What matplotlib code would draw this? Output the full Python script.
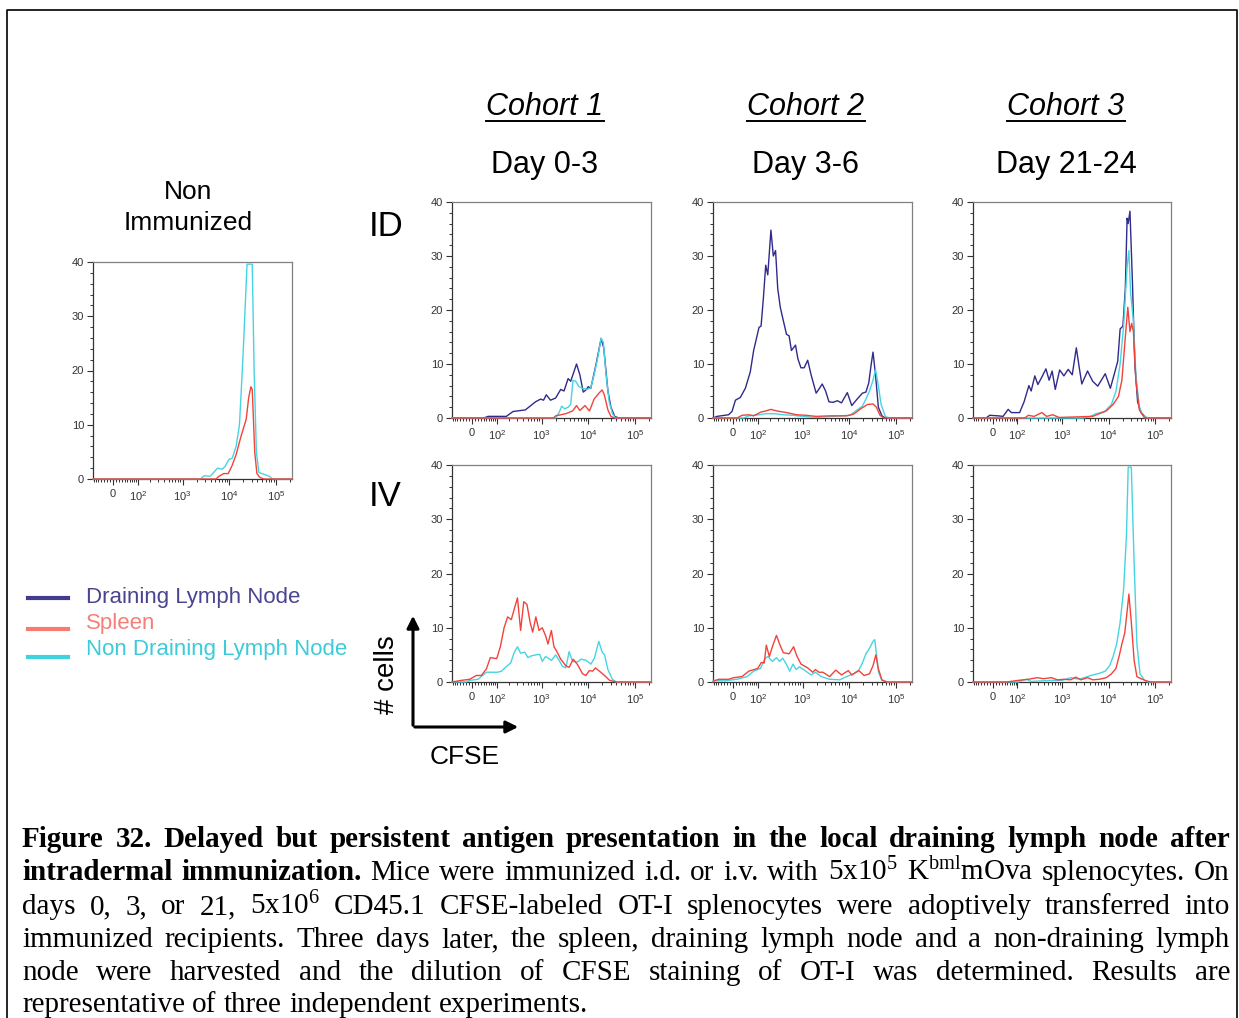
import numpy as np
import matplotlib.pyplot as plt
from matplotlib.lines import Line2D
from matplotlib.patches import FancyArrowPatch
from matplotlib.ticker import FixedLocator, MultipleLocator

plt.rcParams['font.family'] = ['Liberation Sans', 'DejaVu Sans']
plt.rcParams['mathtext.default'] = 'regular'

W, H = 1239, 1018
fig = plt.figure(figsize=(W / 100, H / 100), dpi=100)


def fx(px):
    return px / W


def fy(py):
    return 1 - py / H


dln_color = '#302b8a'
spl_color = '#f2433a'
ndln_color = '#47d4e2'

# ---- data: CFSE intensity vs # cells ----
# Non immunized
ni_ndln_x = [-74, 2400, 2900, 3900, 5600, 7000, 8100, 9800, 11500, 14000, 16500, 19500, 24000, 31000,
             34000, 38000, 43000, 54000, 72000, 85000, 220000]
ni_ndln_y = [0, 0, 0.6, 0.5, 2.0, 1.8, 2.3, 3.6, 3.8, 6, 10, 22, 39.6, 39.6, 20, 5, 1.2, 0.9, 0.5, 0, 0]
ni_spl_x = [-74, 5200, 6000, 7600, 9500, 11500, 14000, 18000, 23000, 26000, 29000, 31000, 35000, 39000,
            45000, 55000, 220000]
ni_spl_y = [0, 0, 0.5, 1.0, 1.0, 2.5, 4.5, 8, 11, 15, 17, 16.5, 5, 1, 0.3, 0, 0]

# ID, cohort 1 (day 0-3)
id1_dln_x = [-74, 40, 57, 170, 240, 447, 740, 950, 1100, 1260, 1550, 2000, 2570, 3020, 3700, 4200, 5600,
             6600, 7800, 8900, 10000, 11300, 14700, 18800, 21400, 26300, 30500, 36700, 45000, 220000]
id1_dln_y = [0, 0, 0.3, 0.3, 1.2, 1.5, 3.0, 3.5, 3.3, 4.3, 3.3, 3.7, 5.3, 5.0, 7.3, 6.8, 10, 8, 4.8, 5.2,
             5.8, 5.5, 10, 14.7, 13, 5, 2, 0.3, 0, 0]
id1_ndln_x = [-74, 2000, 2360, 2700, 3100, 3700, 4200, 4700, 5400, 6300, 7500, 9600, 11300, 13300, 15800,
              18800, 21000, 24000, 28000, 33000, 38000, 220000]
id1_ndln_y = [0, 0, 1, 2.2, 1.7, 2.0, 2.5, 7, 6.8, 5.8, 5.5, 5.3, 5.6, 8, 11, 14.8, 14, 8, 3, 0.8, 0, 0]
id1_spl_x = [-74, 1800, 2000, 3300, 4600, 5600, 6600, 8500, 10600, 13300, 17300, 19800, 22000, 26300,
             30500, 36000, 220000]
id1_spl_y = [0, 0, 0.4, 0.8, 1.3, 2.3, 1.4, 2.3, 1.3, 3.5, 4.7, 5.2, 4.3, 1.5, 0.3, 0, 0]

# ID, cohort 2 (day 3-6)
id2_dln_x = [-74, -56, -14, -3, 8, 24, 42, 62, 78, 108, 121, 137, 156, 174, 205, 232, 260, 290, 330, 385,
             450, 513, 575, 705, 790, 920, 1080, 1285, 1520, 1950, 2300, 2630, 3110, 3670, 4490, 5570,
             6800, 9060, 11300, 14700, 19100, 22700, 26100, 29500, 32200, 36400, 41900, 50000, 59000, 220000]
id2_dln_y = [0, 0.3, 0.6, 1.2, 3.3, 3.8, 5.5, 8.5, 12.5, 16.8, 17, 22, 28.3, 26.5, 34.8, 30, 31, 24, 20.5,
             18, 15.5, 15.2, 12.5, 13.5, 11, 9.3, 9.3, 10.7, 8, 4.6, 5.5, 6.3, 5, 3, 2.9, 3.2, 2.8, 4.7,
             2.3, 3.5, 4.6, 4.8, 6.5, 10, 12.2, 8, 2, 0.4, 0, 0]
id2_ndln_x = [-74, 36, 56, 108, 156, 240, 385, 620, 1000, 1950, 10300, 14700, 19100, 22700, 27000, 32200,
              36400, 41900, 48000, 59000, 70000, 220000]
id2_ndln_y = [0, 0, 0.4, 0.6, 0.8, 0.8, 0.6, 0.5, 0.3, 0.1, 0.5, 1.5, 2.2, 3.5, 5, 7, 9, 6, 2.5, 0.3, 0, 0]
id2_spl_x = [-74, 13, 30, 56, 78, 120, 156, 205, 280, 450, 750, 1180, 1950, 3800, 8800, 12300, 17500,
             24500, 32200, 38000, 45500, 54500, 220000]
id2_spl_y = [0, 0, 0.5, 0.6, 0.4, 1.1, 1.3, 1.6, 1.3, 1.0, 0.6, 0.5, 0.3, 0.4, 0.4, 0.7, 1.7, 2.5, 2.6,
             2.0, 0.5, 0, 0]

# ID, cohort 3 (day 21-24)
id3_dln_x = [-74, -22, -10, 17, 34, 54, 68, 113, 145, 187, 211, 254, 297, 364, 446, 523, 608, 710, 883,
             1090, 1350, 1650, 2020, 2320, 2650, 3520, 4550, 5840, 8460, 10900, 13600, 15700, 17700,
             20300, 22900, 25000, 26300, 28800, 32600, 36600, 42100, 50000, 64900, 220000]
id3_dln_y = [0, 0, 0.5, 0.4, 0.3, 1.6, 1.0, 1.0, 3.0, 6.0, 5.0, 7.8, 6.2, 7.6, 9.1, 7.0, 8.7, 5.3, 8.9,
             7.8, 9.0, 8.0, 13.0, 9.5, 6.3, 8.7, 6.8, 5.9, 8.2, 5.5, 8.5, 10.5, 16.5, 17, 24, 37, 36,
             38.3, 25, 10, 3, 1, 0, 0]
id3_ndln_x = [-74, 2760, 3800, 5370, 8150, 11500, 14400, 17700, 21000, 25000, 27300, 29800, 34200, 38600,
              45800, 54600, 70800, 220000]
id3_ndln_y = [0, 0, 0.2, 0.8, 1.2, 2.5, 5, 10, 17, 28, 31, 23, 18, 8, 2, 0.5, 0, 0]
id3_spl_x = [-74, 150, 182, 245, 364, 460, 627, 855, 4550, 6330, 8900, 12500, 16300, 19300, 22900, 25900,
             28800, 31300, 34200, 38600, 45800, 59600, 220000]
id3_spl_y = [0, 0, 0.5, 0.3, 1.0, 0.3, 0.6, 0.1, 0.3, 0.8, 1.3, 2.5, 4, 7, 15, 20.5, 16, 17.5, 16, 7,
             1.5, 0, 0]

# IV, cohort 1
iv1_spl_x = [-74, -35, -7, 14, 31, 50, 67, 100, 123, 151, 182, 220, 257, 301, 353, 413, 484, 566, 643,
             753, 881, 1034, 1220, 1370, 1620, 1840, 2070, 2570, 3300, 3890, 4750, 5890, 7550, 8910,
             10500, 12400, 14200, 17300, 22300, 28600, 39900, 220000]
iv1_spl_y = [0, 0.3, 0.5, 1.2, 1.2, 2.4, 4.5, 4.3, 6.5, 10, 12, 11.5, 13.5, 15.5, 9.5, 14.8, 14.3, 11,
             9.2, 12, 9.5, 10, 8.5, 7, 9.5, 6.5, 5.8, 4.2, 3, 2.7, 4.2, 3.2, 1.5, 1.2, 2.1, 2.0, 2.6,
             2.0, 1.2, 0.3, 0, 0]
iv1_ndln_x = [-74, -18, -7, 20, 50, 105, 132, 168, 213, 257, 301, 353, 433, 507, 594, 753, 910, 1034,
              1220, 1440, 1640, 2000, 2370, 2790, 3300, 3890, 4590, 5890, 6950, 8910, 11400, 13500,
              16800, 19800, 22300, 26300, 32700, 39900, 220000]
iv1_ndln_y = [0, 0, 0.3, 0.5, 1.8, 1.8, 2.0, 2.8, 3.5, 5.5, 6.5, 5.3, 5.5, 4.5, 4.8, 5.0, 5.1, 3.8, 4.7,
              4.3, 4.0, 5.0, 4.0, 2.9, 2.6, 5.6, 3.8, 3.7, 4.2, 4.0, 3.3, 4.4, 7.5, 5.5, 5, 2.3, 0.5, 0, 0]

# IV, cohort 2
iv2_spl_x = [-74, -70, -49, -13.5, 2.5, 30, 56, 100, 123, 144, 161, 189, 221, 272, 318, 385, 513, 641,
             752, 925, 1285, 1650, 1880, 2230, 2720, 3800, 5130, 6810, 9510, 11300, 16000, 20800, 27000,
             32200, 37000, 41800, 49700, 64600, 220000]
iv2_spl_y = [0, 0.2, 0.5, 0.5, 0.8, 1.0, 2.0, 2.5, 3.6, 3.5, 6.8, 4.7, 6.5, 8.6, 7, 5.4, 5.2, 6.5, 4.8,
             3.3, 2.6, 1.8, 2.3, 1.8, 1.8, 1.0, 2.2, 1.3, 2.1, 1.3, 2.1, 1.2, 1.5, 3.0, 5.0, 2.5, 0.4, 0, 0]
iv2_ndln_x = [-74, -30, 13, 49, 78, 117, 149, 174, 221, 272, 318, 373, 452, 530, 621, 727, 853, 1087,
              1520, 1880, 2500, 3800, 6270, 8750, 12300, 16000, 19100, 22700, 27000, 32200, 35100, 38300,
              41800, 49700, 64600, 220000]
iv2_ndln_y = [0.3, 0.2, 0.5, 1.0, 2.0, 2.5, 4.3, 4.7, 3.8, 4.5, 3.8, 4.4, 3.2, 2.0, 3.3, 2.3, 2.8, 2.2,
              1.3, 1.8, 1.0, 0.5, 0.4, 1.0, 1.5, 2.2, 3.5, 5.2, 6.2, 7.5, 7.8, 5, 2, 0.3, 0, 0]

# IV, cohort 3
iv3_ndln_x = [-74, 105, 132, 167, 211, 336, 627, 1000, 1520, 1960, 2520, 3240, 4540, 6350, 8460, 10500,
              12500, 14900, 17700, 21000, 24200, 26400, 30800, 35400, 40600, 47500, 59500, 70800, 220000]
iv3_ndln_y = [0, 0, 0.3, 0.5, 0.1, 0.2, 0.3, 0.3, 0.8, 0.6, 0.6, 0.9, 1.3, 1.6, 2.0, 3.0, 4.7, 7, 11, 17,
              27, 39.6, 39.6, 22, 7, 1.5, 0.3, 0, 0]
iv3_spl_x = [-74, 47, 105, 182, 288, 394, 580, 792, 1090, 1520, 1960, 2520, 3520, 4540, 6350, 8890, 11500,
             14400, 17100, 19300, 22200, 25000, 27300, 30800, 35400, 40600, 50000, 64900, 84200, 220000]
iv3_spl_y = [0, 0, 0.3, 0.5, 0.8, 0.6, 0.8, 0.4, 0.5, 0.4, 0.9, 0.4, 0.8, 0.4, 0.5, 0.8, 1.5, 2.5, 5, 7,
             9, 13, 16.2, 11, 4, 1, 0.6, 0.2, 0, 0]

x_major = [0, 1e2, 1e3, 1e4, 1e5]
x_major_labels = ['0', '10$^2$', '10$^3$', '10$^4$', '10$^5$']
x_minor = ([-70, -60, -50, -40, -30, -20, -10] + [10, 20, 30, 40, 50, 60, 70, 80, 90]
           + [200, 300, 400, 500, 600, 700, 800, 900]
           + [2000, 3000, 4000, 5000, 6000, 7000, 8000, 9000]
           + [20000, 30000, 40000, 50000, 60000, 70000, 80000, 90000, 200000])

C = 64.5


def fwd(x):
    return np.arcsinh(np.asarray(x, dtype=float) / C)


def inv(u):
    return C * np.sinh(u)


def panel(l, t, r, b, curves):
    ax = fig.add_axes([fx(l), fy(b), fx(r) - fx(l), fy(t) - fy(b)])
    ax.set_xscale('function', functions=(fwd, inv))
    for xs, ys, c in curves:
        ax.plot(xs, ys, color=c, lw=1.0, zorder=3, clip_on=False)
    ax.set_xlim(-74, 2.2e5)
    ax.set_ylim(0, 40)
    ax.xaxis.set_major_locator(FixedLocator(x_major))
    ax.set_xticklabels(x_major_labels)
    ax.xaxis.set_minor_locator(FixedLocator(x_minor))
    ax.yaxis.set_major_locator(MultipleLocator(10))
    ax.yaxis.set_minor_locator(MultipleLocator(2))
    ax.tick_params(which='major', length=4.5, width=0.8, color='#333333', labelsize=8,
                   labelcolor='#333333', pad=2)
    ax.tick_params(which='minor', length=2.5, width=0.7, color='#333333')
    ax.tick_params(axis='x', which='major', pad=3)
    for s in ['left', 'bottom']:
        ax.spines[s].set_color('#333333')
        ax.spines[s].set_linewidth(0.9)
    for s in ['top', 'right']:
        ax.spines[s].set_color('#808080')
        ax.spines[s].set_linewidth(0.9)
    return ax


panel(93, 262, 292, 479, [(ni_ndln_x, ni_ndln_y, ndln_color), (ni_spl_x, ni_spl_y, spl_color)])

cols = [(452, 651), (713, 912), (973, 1171)]
id_rows = [
    [(id1_dln_x, id1_dln_y, dln_color), (id1_ndln_x, id1_ndln_y, ndln_color), (id1_spl_x, id1_spl_y, spl_color)],
    [(id2_dln_x, id2_dln_y, dln_color), (id2_ndln_x, id2_ndln_y, ndln_color), (id2_spl_x, id2_spl_y, spl_color)],
    [(id3_dln_x, id3_dln_y, dln_color), (id3_ndln_x, id3_ndln_y, ndln_color), (id3_spl_x, id3_spl_y, spl_color)],
]
iv_rows = [
    [(iv1_ndln_x, iv1_ndln_y, ndln_color), (iv1_spl_x, iv1_spl_y, spl_color)],
    [(iv2_ndln_x, iv2_ndln_y, ndln_color), (iv2_spl_x, iv2_spl_y, spl_color)],
    [(iv3_ndln_x, iv3_ndln_y, ndln_color), (iv3_spl_x, iv3_spl_y, spl_color)],
]
for (l, r), cur in zip(cols, id_rows):
    panel(l, 202, r, 418, cur)
for (l, r), cur in zip(cols, iv_rows):
    panel(l, 465, r, 682, cur)

# ---- headers ----
renderer = fig.canvas.get_renderer()
cohorts = ['Cohort 1', 'Cohort 2', 'Cohort 3']
days = ['Day 0-3', 'Day 3-6', 'Day 21-24']
centers = [545, 806, 1066]
for cx, co, dy in zip(centers, cohorts, days):
    t = fig.text(fx(cx), fy(107), co, fontsize=22, style='italic', ha='center', va='center')
    bb = t.get_window_extent(renderer)
    fig.add_artist(Line2D([bb.x0 / W, bb.x1 / W], [fy(121), fy(121)], color='black', lw=1.4))
    fig.text(fx(cx), fy(165), dy, fontsize=22, ha='center', va='center')

fig.text(fx(188), fy(192), 'Non', fontsize=19, ha='center', va='center')
fig.text(fx(188), fy(223), 'Immunized', fontsize=19, ha='center', va='center')
fig.text(fx(386), fy(226), 'ID', fontsize=25, ha='center', va='center')
fig.text(fx(385), fy(496), 'IV', fontsize=25, ha='center', va='center')

# ---- legend ----
legend_labels = ['Draining Lymph Node', 'Spleen', 'Non Draining Lymph Node']
legend_lines = ['#413c8e', '#f87b72', '#3dd3e0']
legend_text = ['#4a4590', '#f57f78', '#3ccbd9']
line_y = [598, 629, 657]
text_y = [597, 623, 650]
for lab, lc, tc, ly, ty in zip(legend_labels, legend_lines, legend_text, line_y, text_y):
    fig.add_artist(Line2D([fx(28), fx(68)], [fy(ly), fy(ly)], color=lc, lw=3))
    fig.text(fx(86), fy(ty), lab, fontsize=16, color=tc, ha='left', va='center')

# ---- axis arrows ----
fig.add_artist(FancyArrowPatch((fx(413), fy(728)), (fx(413), fy(613)), transform=fig.transFigure,
                               arrowstyle='-|>', mutation_scale=18, lw=2.2, color='black'))
fig.add_artist(FancyArrowPatch((fx(412), fy(727)), (fx(521), fy(727)), transform=fig.transFigure,
                               arrowstyle='-|>', mutation_scale=18, lw=2.2, color='black'))
fig.text(fx(387), fy(675), '# cells', fontsize=20, rotation=90, ha='center', va='center')
fig.text(fx(465), fy(757), 'CFSE', fontsize=19, ha='center', va='center')

# ---- frame ----
fig.add_artist(Line2D([fx(7), fx(7), fx(1237), fx(1237)], [0, fy(10), fy(10), 0], color='black', lw=1.2))

# ---- caption ----
cap_fs = 21
cap_left, cap_right = 22, 1230
cap_lines = [
    [("Figure 32. Delayed but persistent antigen presentation in the local draining lymph node after", 'bold')],
    [("intradermal immunization.", 'bold'),
     ("Mice were immunized i.d. or i.v. with 5x10$^5$ K$^{bml}$mOva splenocytes. On", 'normal')],
    [("days 0, 3, or 21, 5x10$^6$ CD45.1 CFSE-labeled OT-I splenocytes were adoptively transferred into", 'normal')],
    [("immunized recipients. Three days later, the spleen, draining lymph node and a non-draining lymph", 'normal')],
    [("node were harvested and the dilution of CFSE staining of OT-I was determined. Results are", 'normal')],
    [("representative of three independent experiments.", 'normal')],
]
baselines = [847, 880, 914, 947, 980, 1012]
for i, (segs, by) in enumerate(zip(cap_lines, baselines)):
    arts = []
    for text, wt in segs:
        for w in text.split(' '):
            arts.append(fig.text(0, fy(by), w, fontsize=cap_fs, family='Liberation Serif',
                                 weight=wt, ha='left', va='baseline'))
    widths = [a.get_window_extent(renderer).width for a in arts]
    if i < len(cap_lines) - 1:
        gap = (cap_right - cap_left - sum(widths)) / (len(arts) - 1)
    else:
        gap = cap_fs * 100 / 72 * 0.25
    x = cap_left
    for a, w in zip(arts, widths):
        a.set_x(fx(x))
        x += w + gap

fig.savefig('out.png', dpi=100)
